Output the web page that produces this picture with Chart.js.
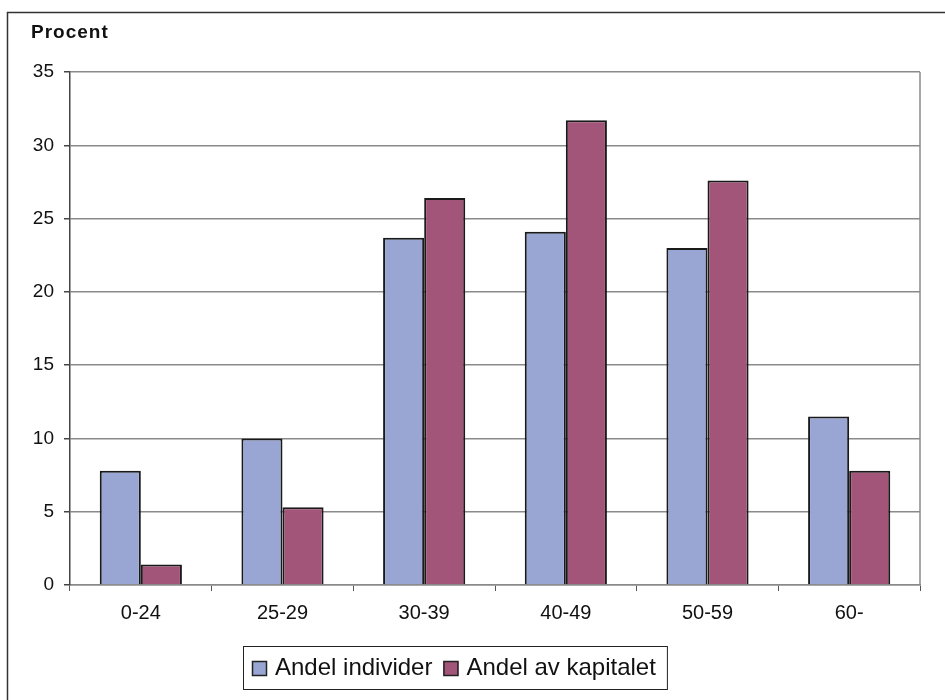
<!DOCTYPE html>
<html>
<head>
<meta charset="utf-8">
<script src="https://cdn.jsdelivr.net/npm/chart.js@4/dist/chart.umd.min.js"></script>
<style>
  html, body { margin: 0; padding: 0; background: #fff; }
  #wrap { width: 945px; height: 700px; position: relative; }
</style>
</head>
<body>
<div id="wrap"><canvas id="c" width="945" height="700"></canvas></div>
<script>
// Age groups and shares (percent)
const categories = ['0-24', '25-29', '30-39', '40-49', '50-59', '60-'];
const andelIndivider = [7.8, 10.0, 23.7, 24.1, 23.0, 11.5];
const andelKapitalet = [1.4, 5.3, 26.4, 31.7, 27.6, 7.8];
const seriesNames = ['Andel individer', 'Andel av kapitalet'];
const yTitle = 'Procent';

const BLUE = '#99a6d4';
const RED = '#a25479';

// Outer frame, axis title, plot-area right edge
const decorations = {
  id: 'decorations',
  beforeDraw(chart) {
    const ctx = chart.ctx;
    ctx.save();
    ctx.fillStyle = '#fff';
    ctx.fillRect(0, 0, chart.width, chart.height);
    ctx.strokeStyle = '#333';
    ctx.lineWidth = 1.5;
    ctx.strokeRect(7.5, 12.5, chart.width + 20, chart.height + 20);
    ctx.restore();
  },
  afterDraw(chart) {
    const ctx = chart.ctx;
    const a = chart.chartArea;
    ctx.save();
    ctx.strokeStyle = '#8a8a8a';
    ctx.lineWidth = 1.5;
    ctx.beginPath();
    ctx.moveTo(a.right, a.top);
    ctx.lineTo(a.right, a.bottom);
    ctx.stroke();

    ctx.fillStyle = '#111';
    ctx.font = 'bold 19px "Liberation Sans", Arial, sans-serif';
    ctx.letterSpacing = '1px';
    ctx.textBaseline = 'alphabetic';
    ctx.textAlign = 'left';
    ctx.fillText(yTitle, 31, 38);
    ctx.restore();
  }
};

// Boxed legend below the axis
const boxedLegend = {
  id: 'boxedLegend',
  afterDraw(chart) {
    const ctx = chart.ctx;
    ctx.save();
    ctx.font = '24px "Liberation Sans", Arial, sans-serif';
    ctx.textBaseline = 'middle';
    ctx.textAlign = 'left';
    const sq = 15, gapT = 8, gapItem = 11, padL = 9, padR = 11;
    const ds = chart.data.datasets;
    const widths = ds.map(d => ctx.measureText(d.label).width);
    let total = padL + padR;
    widths.forEach((w, i) => { total += sq + gapT + w + (i > 0 ? gapItem : 0); });
    const cx = 454.5, top = 646, bottom = 689;
    const left = Math.round(cx - total / 2);
    ctx.strokeStyle = '#222';
    ctx.lineWidth = 1;
    ctx.strokeRect(left + 0.5, top + 0.5, total, bottom - top);
    let x = left + padL;
    const cy = (top + bottom) / 2 + 1;
    ds.forEach((d, i) => {
      if (i > 0) x += gapItem;
      ctx.fillStyle = d.backgroundColor;
      ctx.fillRect(x, cy - sq / 2, sq, sq);
      ctx.strokeStyle = '#222';
      ctx.lineWidth = 1.5;
      ctx.strokeRect(x + 0.5, cy - sq / 2 + 0.5, sq - 1, sq - 1);
      x += sq + gapT;
      ctx.fillStyle = '#111';
      ctx.fillText(d.label, x, cy);
      x += widths[i];
    });
    ctx.restore();
  }
};

new Chart(document.getElementById('c'), {
  type: 'bar',
  data: {
    labels: categories,
    datasets: [
      { label: seriesNames[0], data: andelIndivider, backgroundColor: BLUE, borderColor: '#1a1a1a', borderWidth: 2 },
      { label: seriesNames[1], data: andelKapitalet, backgroundColor: RED, borderColor: '#1a1a1a', borderWidth: 2 }
    ]
  },
  options: {
    responsive: false,
    animation: false,
    devicePixelRatio: 1,
    layout: { padding: { left: 0, right: 25, top: 72, bottom: 0 } },
    datasets: { bar: { categoryPercentage: 0.58, barPercentage: 1.0 } },
    plugins: {
      legend: { display: false },
      tooltip: { enabled: false }
    },
    scales: {
      x: {
        afterFit(scale) { scale.height = 115; },
        grid: { display: true, drawOnChartArea: false, drawTicks: true, tickLength: 6, tickColor: '#555', offset: true },
        border: { display: true, color: '#8a8a8a', width: 1.5 },
        ticks: { color: '#111', padding: 10, font: { family: '"Liberation Sans", Arial, sans-serif', size: 20 } }
      },
      y: {
        min: 0, max: 35,
        afterFit(scale) { scale.width = 70; },
        grid: { color: '#8a8a8a', lineWidth: 1.5, tickLength: 6, tickColor: '#444' },
        border: { display: true, color: '#444', width: 1.5 },
        ticks: { stepSize: 5, color: '#111', padding: 10, font: { family: '"Liberation Sans", Arial, sans-serif', size: 19 } }
      }
    }
  },
  plugins: [decorations, boxedLegend]
});
</script>
</body>
</html>
